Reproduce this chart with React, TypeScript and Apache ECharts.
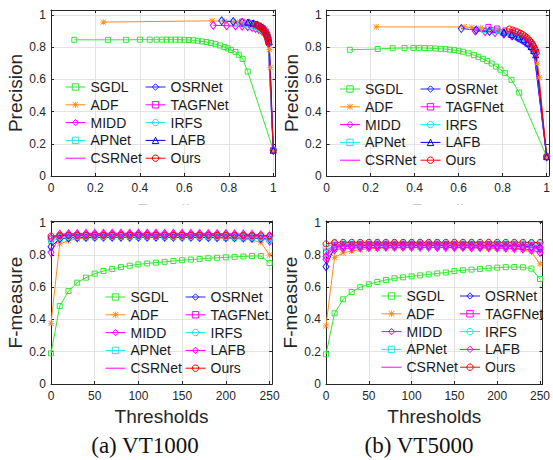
import React, { useEffect, useRef } from "react";
import * as echarts from "echarts";

// ---------------- data ----------------
const METHODS = ["SGDL", "ADF", "MIDD", "APNet", "CSRNet", "OSRNet", "TAGFNet", "IRFS", "LAFB", "Ours"];
const LEGEND_COL1 = ["SGDL", "ADF", "MIDD", "APNet", "CSRNet"];
const LEGEND_COL2 = ["OSRNet", "TAGFNet", "IRFS", "LAFB", "Ours"];

// PR curves, VT1000 (recall R1_*, precision P1_*)
const R1_SGDL = [0.105, 0.257, 0.338, 0.4, 0.444, 0.475, 0.5, 0.52, 0.54, 0.56, 0.58, 0.6, 0.62, 0.64, 0.66, 0.68, 0.7, 0.72, 0.74, 0.76, 0.78, 0.795, 0.81, 0.83, 0.845, 0.862, 0.885, 1.0];
const P1_SGDL = [0.845, 0.845, 0.845, 0.846, 0.846, 0.846, 0.846, 0.846, 0.846, 0.846, 0.846, 0.845, 0.844, 0.842, 0.839, 0.835, 0.831, 0.825, 0.818, 0.81, 0.8, 0.792, 0.782, 0.77, 0.752, 0.727, 0.648, 0.16];
const R1_ADF = [0.235, 0.725, 0.78, 0.82, 0.85, 0.875, 0.895, 0.915, 0.93, 0.945, 0.955, 0.963, 0.97, 0.975, 0.979, 0.983, 0.987, 1.0];
const P1_ADF = [0.955, 0.963, 0.96, 0.957, 0.954, 0.951, 0.947, 0.942, 0.937, 0.93, 0.922, 0.912, 0.898, 0.878, 0.85, 0.785, 0.672, 0.16];
const R1_MIDD = [0.73, 0.79, 0.83, 0.86, 0.885, 0.905, 0.92, 0.935, 0.948, 0.958, 0.966, 0.972, 0.976, 1.0];
const P1_MIDD = [0.935, 0.933, 0.931, 0.929, 0.926, 0.922, 0.916, 0.909, 0.9, 0.889, 0.876, 0.862, 0.845, 0.16];
const R1_APNet = [0.83, 0.87, 0.9, 0.92, 0.935, 0.948, 0.958, 0.966, 0.972, 0.976, 1.0];
const P1_APNet = [0.945, 0.94, 0.934, 0.927, 0.919, 0.909, 0.897, 0.884, 0.868, 0.848, 0.16];
const R1_CSRNet = [0.86, 0.89, 0.915, 0.932, 0.946, 0.957, 0.965, 0.972, 0.977, 1.0];
const P1_CSRNet = [0.95, 0.943, 0.934, 0.924, 0.912, 0.898, 0.883, 0.865, 0.842, 0.16];
const R1_OSRNet = [0.768, 0.82, 0.86, 0.89, 0.912, 0.93, 0.945, 0.957, 0.966, 0.973, 0.978, 1.0];
const P1_OSRNet = [0.963, 0.958, 0.953, 0.948, 0.942, 0.934, 0.924, 0.912, 0.897, 0.879, 0.857, 0.16];
const R1_TAGFNet = [0.86, 0.89, 0.912, 0.93, 0.944, 0.956, 0.965, 0.972, 0.977, 0.981, 1.0];
const P1_TAGFNet = [0.958, 0.951, 0.943, 0.934, 0.923, 0.91, 0.895, 0.877, 0.856, 0.83, 0.16];
const R1_IRFS = [0.88, 0.905, 0.925, 0.94, 0.952, 0.961, 0.968, 0.974, 0.978, 1.0];
const P1_IRFS = [0.945, 0.937, 0.927, 0.916, 0.903, 0.889, 0.872, 0.852, 0.826, 0.16];
const R1_LAFB = [0.885, 0.908, 0.926, 0.94, 0.952, 0.961, 0.968, 0.974, 0.979, 0.982, 1.0];
const P1_LAFB = [0.955, 0.949, 0.941, 0.932, 0.921, 0.908, 0.893, 0.876, 0.856, 0.832, 0.16];
const R1_Ours = [0.918, 0.925, 0.931, 0.936, 0.941, 0.946, 0.95, 0.954, 0.958, 0.961, 0.964, 0.967, 0.97, 0.972, 0.974, 0.976, 0.978, 0.98, 1.0];
const P1_Ours = [0.94, 0.936, 0.932, 0.928, 0.923, 0.918, 0.913, 0.907, 0.901, 0.895, 0.888, 0.88, 0.872, 0.864, 0.855, 0.845, 0.834, 0.822, 0.16];

// PR curves, VT5000
const R2_SGDL = [0.105, 0.232, 0.3, 0.354, 0.394, 0.42, 0.445, 0.47, 0.495, 0.52, 0.54, 0.56, 0.58, 0.6, 0.62, 0.645, 0.67, 0.69, 0.71, 0.73, 0.75, 0.77, 0.79, 0.81, 0.84, 0.875, 1.0];
const P2_SGDL = [0.783, 0.788, 0.793, 0.794, 0.795, 0.795, 0.794, 0.793, 0.791, 0.789, 0.787, 0.784, 0.781, 0.777, 0.771, 0.761, 0.75, 0.739, 0.727, 0.713, 0.698, 0.679, 0.66, 0.638, 0.597, 0.518, 0.12];
const R2_ADF = [0.225, 0.625, 0.66, 0.7, 0.74, 0.78, 0.815, 0.845, 0.87, 0.893, 0.912, 0.928, 0.94, 0.95, 0.958, 0.967, 1.0];
const P2_ADF = [0.925, 0.925, 0.922, 0.918, 0.913, 0.907, 0.9, 0.891, 0.88, 0.867, 0.851, 0.831, 0.806, 0.773, 0.7, 0.61, 0.12];
const R2_MIDD = [0.675, 0.72, 0.765, 0.805, 0.84, 0.868, 0.89, 0.908, 0.922, 0.933, 0.942, 1.0];
const P2_MIDD = [0.9, 0.896, 0.89, 0.882, 0.871, 0.858, 0.843, 0.827, 0.81, 0.792, 0.775, 0.12];
const R2_APNet = [0.715, 0.76, 0.8, 0.835, 0.865, 0.888, 0.907, 0.922, 0.934, 0.943, 1.0];
const P2_APNet = [0.905, 0.898, 0.889, 0.877, 0.863, 0.848, 0.831, 0.813, 0.793, 0.77, 0.12];
const R2_CSRNet = [0.745, 0.79, 0.828, 0.86, 0.885, 0.905, 0.921, 0.933, 0.942, 1.0];
const P2_CSRNet = [0.908, 0.897, 0.884, 0.868, 0.851, 0.832, 0.812, 0.79, 0.765, 0.12];
const R2_OSRNet = [0.612, 0.68, 0.74, 0.807, 0.845, 0.875, 0.898, 0.917, 0.932, 0.943, 1.0];
const P2_OSRNet = [0.915, 0.906, 0.897, 0.884, 0.871, 0.855, 0.838, 0.818, 0.797, 0.774, 0.12];
const R2_TAGFNet = [0.735, 0.775, 0.812, 0.845, 0.873, 0.896, 0.915, 0.93, 0.941, 0.949, 1.0];
const P2_TAGFNet = [0.925, 0.915, 0.903, 0.889, 0.873, 0.855, 0.835, 0.813, 0.79, 0.765, 0.12];
const R2_IRFS = [0.78, 0.82, 0.855, 0.884, 0.906, 0.924, 0.938, 0.948, 1.0];
const P2_IRFS = [0.905, 0.892, 0.877, 0.859, 0.839, 0.817, 0.794, 0.768, 0.12];
const R2_LAFB = [0.805, 0.84, 0.87, 0.895, 0.914, 0.929, 0.941, 0.95, 1.0];
const P2_LAFB = [0.893, 0.879, 0.863, 0.845, 0.825, 0.803, 0.779, 0.752, 0.12];
const R2_Ours = [0.83, 0.845, 0.858, 0.87, 0.881, 0.891, 0.9, 0.908, 0.916, 0.923, 0.93, 0.936, 0.941, 0.946, 0.95, 0.953, 1.0];
const P2_Ours = [0.912, 0.906, 0.9, 0.893, 0.886, 0.878, 0.87, 0.861, 0.851, 0.841, 0.83, 0.818, 0.806, 0.793, 0.779, 0.764, 0.12];

// F-measure vs threshold
const THRESHOLDS = [0, 10, 20, 30, 40, 50, 60, 70, 80, 90, 100, 110, 120, 130, 140, 150, 160, 170, 180, 190, 200, 210, 220, 230, 240, 250];

const F1_SGDL = [0.19, 0.483, 0.576, 0.628, 0.659, 0.684, 0.7, 0.713, 0.724, 0.733, 0.741, 0.747, 0.752, 0.757, 0.762, 0.767, 0.771, 0.775, 0.779, 0.782, 0.785, 0.788, 0.79, 0.793, 0.793, 0.75];
const F1_ADF = [0.376, 0.868, 0.888, 0.9, 0.905, 0.907, 0.908, 0.909, 0.91, 0.91, 0.91, 0.91, 0.91, 0.91, 0.91, 0.909, 0.909, 0.908, 0.907, 0.905, 0.903, 0.9, 0.897, 0.892, 0.878, 0.8];
const F1_MIDD = [0.816, 0.912, 0.92, 0.923, 0.924, 0.925, 0.925, 0.925, 0.926, 0.926, 0.926, 0.926, 0.926, 0.925, 0.925, 0.925, 0.924, 0.924, 0.923, 0.922, 0.921, 0.919, 0.917, 0.913, 0.905, 0.885];
const F1_APNet = [0.885, 0.903, 0.907, 0.908, 0.909, 0.909, 0.91, 0.91, 0.91, 0.91, 0.91, 0.91, 0.91, 0.91, 0.91, 0.909, 0.909, 0.909, 0.908, 0.908, 0.907, 0.906, 0.905, 0.903, 0.9, 0.893];
const F1_CSRNet = [0.905, 0.924, 0.927, 0.928, 0.929, 0.929, 0.929, 0.93, 0.93, 0.93, 0.93, 0.93, 0.93, 0.929, 0.929, 0.929, 0.929, 0.928, 0.928, 0.927, 0.927, 0.926, 0.925, 0.923, 0.92, 0.913];
const F1_OSRNet = [0.851, 0.9, 0.905, 0.907, 0.908, 0.909, 0.909, 0.91, 0.91, 0.91, 0.91, 0.91, 0.91, 0.91, 0.909, 0.909, 0.909, 0.908, 0.908, 0.907, 0.907, 0.906, 0.905, 0.904, 0.902, 0.9];
const F1_TAGFNet = [0.9, 0.918, 0.921, 0.922, 0.923, 0.923, 0.923, 0.924, 0.924, 0.924, 0.924, 0.924, 0.924, 0.924, 0.923, 0.923, 0.923, 0.923, 0.922, 0.922, 0.921, 0.92, 0.919, 0.917, 0.914, 0.908];
const F1_IRFS = [0.895, 0.91, 0.913, 0.914, 0.915, 0.915, 0.915, 0.915, 0.915, 0.915, 0.915, 0.915, 0.915, 0.915, 0.915, 0.915, 0.914, 0.914, 0.914, 0.913, 0.913, 0.912, 0.911, 0.91, 0.908, 0.903];
const F1_LAFB = [0.905, 0.928, 0.931, 0.932, 0.933, 0.933, 0.933, 0.934, 0.934, 0.934, 0.934, 0.934, 0.934, 0.933, 0.933, 0.933, 0.933, 0.932, 0.932, 0.931, 0.931, 0.93, 0.929, 0.927, 0.924, 0.918];
const F1_Ours = [0.917, 0.92, 0.921, 0.921, 0.921, 0.921, 0.921, 0.921, 0.921, 0.921, 0.921, 0.921, 0.921, 0.921, 0.921, 0.921, 0.921, 0.921, 0.921, 0.921, 0.921, 0.92, 0.92, 0.92, 0.919, 0.918];

const F2_SGDL = [0.184, 0.438, 0.525, 0.57, 0.6, 0.618, 0.632, 0.645, 0.655, 0.661, 0.667, 0.673, 0.679, 0.685, 0.691, 0.7, 0.705, 0.709, 0.713, 0.717, 0.721, 0.724, 0.725, 0.723, 0.715, 0.651];
const F2_ADF = [0.36, 0.785, 0.812, 0.824, 0.833, 0.838, 0.841, 0.843, 0.844, 0.845, 0.845, 0.846, 0.846, 0.846, 0.846, 0.845, 0.845, 0.844, 0.843, 0.842, 0.84, 0.838, 0.836, 0.832, 0.818, 0.744];
const F2_MIDD = [0.773, 0.832, 0.84, 0.843, 0.845, 0.846, 0.846, 0.847, 0.847, 0.847, 0.847, 0.847, 0.847, 0.846, 0.846, 0.846, 0.846, 0.845, 0.845, 0.844, 0.843, 0.842, 0.84, 0.837, 0.83, 0.815];
const F2_APNet = [0.81, 0.86, 0.864, 0.866, 0.867, 0.867, 0.868, 0.868, 0.868, 0.868, 0.868, 0.868, 0.868, 0.868, 0.868, 0.867, 0.867, 0.867, 0.866, 0.866, 0.865, 0.864, 0.863, 0.862, 0.86, 0.856];
const F2_CSRNet = [0.805, 0.855, 0.859, 0.861, 0.862, 0.862, 0.863, 0.863, 0.863, 0.863, 0.863, 0.863, 0.863, 0.863, 0.862, 0.862, 0.862, 0.862, 0.861, 0.861, 0.86, 0.859, 0.858, 0.857, 0.855, 0.85];
const F2_OSRNet = [0.727, 0.846, 0.853, 0.856, 0.857, 0.858, 0.858, 0.858, 0.858, 0.858, 0.858, 0.858, 0.858, 0.858, 0.858, 0.857, 0.857, 0.857, 0.856, 0.856, 0.855, 0.854, 0.853, 0.852, 0.85, 0.845];
const F2_TAGFNet = [0.82, 0.864, 0.867, 0.868, 0.869, 0.869, 0.87, 0.87, 0.87, 0.87, 0.87, 0.87, 0.87, 0.87, 0.869, 0.869, 0.869, 0.869, 0.868, 0.868, 0.867, 0.866, 0.866, 0.865, 0.863, 0.858];
const F2_IRFS = [0.845, 0.872, 0.874, 0.875, 0.875, 0.876, 0.876, 0.876, 0.876, 0.876, 0.876, 0.876, 0.876, 0.876, 0.876, 0.876, 0.875, 0.875, 0.875, 0.875, 0.874, 0.874, 0.873, 0.873, 0.872, 0.869];
const F2_LAFB = [0.79, 0.848, 0.853, 0.855, 0.856, 0.856, 0.857, 0.857, 0.857, 0.857, 0.857, 0.857, 0.857, 0.857, 0.856, 0.856, 0.856, 0.855, 0.855, 0.854, 0.853, 0.852, 0.851, 0.849, 0.845, 0.835];
const F2_Ours = [0.868, 0.877, 0.878, 0.878, 0.878, 0.878, 0.878, 0.878, 0.878, 0.878, 0.878, 0.878, 0.878, 0.878, 0.878, 0.878, 0.878, 0.878, 0.878, 0.878, 0.878, 0.878, 0.878, 0.878, 0.877, 0.877];

const PR_VT1000: Record<string, number[][]> = {
  SGDL: [R1_SGDL, P1_SGDL], ADF: [R1_ADF, P1_ADF], MIDD: [R1_MIDD, P1_MIDD], APNet: [R1_APNet, P1_APNet],
  CSRNet: [R1_CSRNet, P1_CSRNet], OSRNet: [R1_OSRNet, P1_OSRNet], TAGFNet: [R1_TAGFNet, P1_TAGFNet],
  IRFS: [R1_IRFS, P1_IRFS], LAFB: [R1_LAFB, P1_LAFB], Ours: [R1_Ours, P1_Ours],
};
const PR_VT5000: Record<string, number[][]> = {
  SGDL: [R2_SGDL, P2_SGDL], ADF: [R2_ADF, P2_ADF], MIDD: [R2_MIDD, P2_MIDD], APNet: [R2_APNet, P2_APNet],
  CSRNet: [R2_CSRNet, P2_CSRNet], OSRNet: [R2_OSRNet, P2_OSRNet], TAGFNet: [R2_TAGFNet, P2_TAGFNet],
  IRFS: [R2_IRFS, P2_IRFS], LAFB: [R2_LAFB, P2_LAFB], Ours: [R2_Ours, P2_Ours],
};
const FM_VT1000: Record<string, number[]> = {
  SGDL: F1_SGDL, ADF: F1_ADF, MIDD: F1_MIDD, APNet: F1_APNet, CSRNet: F1_CSRNet,
  OSRNet: F1_OSRNet, TAGFNet: F1_TAGFNet, IRFS: F1_IRFS, LAFB: F1_LAFB, Ours: F1_Ours,
};
const FM_VT5000: Record<string, number[]> = {
  SGDL: F2_SGDL, ADF: F2_ADF, MIDD: F2_MIDD, APNet: F2_APNet, CSRNet: F2_CSRNet,
  OSRNet: F2_OSRNet, TAGFNet: F2_TAGFNet, IRFS: F2_IRFS, LAFB: F2_LAFB, Ours: F2_Ours,
};

// ---------------- styles ----------------
const ASTER =
  "path://M4.35,0H5.65V10H4.35Z M0,4.35H10V5.65H0Z M1.1,0.2L9.8,8.9L8.9,9.8L0.2,1.1Z M8.9,0.2L9.8,1.1L1.1,9.8L0.2,8.9Z";
type Sty = { c: string; sym: string; size?: number | number[]; filled?: boolean };
const GREEN = "#33e633";
const ORANGE = "#ff8c1a";
const MAGENTA = "#ff00ff";
const CYAN = "#1ee8e8";
const BLUE = "#1f1fff";
const DBLUE = "#0000e0";
const RED = "#ff0000";
const STY_PR: Record<string, Sty> = {
  SGDL: { c: GREEN, sym: "rect", size: 5 },
  ADF: { c: ORANGE, sym: ASTER, size: 6, filled: true },
  MIDD: { c: MAGENTA, sym: "diamond", size: [6, 8] },
  APNet: { c: CYAN, sym: "rect", size: 5 },
  CSRNet: { c: MAGENTA, sym: "none" },
  OSRNet: { c: BLUE, sym: "diamond", size: [6, 8] },
  TAGFNet: { c: MAGENTA, sym: "rect", size: 5 },
  IRFS: { c: CYAN, sym: "circle", size: 6 },
  LAFB: { c: DBLUE, sym: "triangle", size: 6 },
  Ours: { c: RED, sym: "circle", size: 6 },
};
const STY_FM: Record<string, Sty> = { ...STY_PR, LAFB: { c: MAGENTA, sym: "diamond", size: [6, 8] } };

const FONT = '"Liberation Sans", Arial, Helvetica, sans-serif';
const SERIF = '"Liberation Serif", "Times New Roman", Times, serif';
const AXC = "#262626";
const GRIDC = "#e3e3e3";

function itemStyleOf(st: Sty) {
  if (st.sym === "none") return { color: "transparent", borderColor: "transparent", borderWidth: 0 };
  if (st.filled) return { color: st.c, borderWidth: 0 };
  return { color: "transparent", borderColor: st.c, borderWidth: 1 };
}

function makeSeries(name: string, xs: number[], ys: number[], st: Sty, idx: number) {
  return {
    type: "line",
    name,
    xAxisIndex: idx,
    yAxisIndex: idx,
    data: xs.map((x, i) => [x, ys[i]]),
    symbol: st.sym,
    symbolSize: st.size ?? 6,
    showSymbol: st.sym !== "none",
    lineStyle: { color: st.c, width: 1 },
    itemStyle: itemStyleOf(st),
    emphasis: { disabled: true },
    silent: true,
  };
}

const fmt02 = (v: number) => {
  const r = Math.round(v * 5) / 5;
  if (Math.abs(v - r) > 1e-6 || r > 1.0001) return "";
  return r === 0 ? "0" : r === 1 ? "1" : r.toFixed(1);
};
const fmt50 = (v: number) => (Math.abs(v % 50) < 1e-6 && v <= 250 ? String(Math.round(v)) : "");

type G = { left: number; top: number; width: number; height: number; xmax: number; ymax: number; xint: number; xfmt: (v: number) => string; xname: string; xgap: number; yname: string };
const GRIDS: G[] = [
  { left: 51, top: 10, width: 224.5, height: 166, xmax: 1.01, ymax: 1.03, xint: 0.2, xfmt: fmt02, xname: "Recall", xgap: 25, yname: "Precision" },
  { left: 326.7, top: 10, width: 224.5, height: 166, xmax: 1.01, ymax: 1.03, xint: 0.2, xfmt: fmt02, xname: "Recall", xgap: 25, yname: "Precision" },
  { left: 51, top: 221, width: 221.2, height: 163, xmax: 253, ymax: 1.01, xint: 50, xfmt: fmt50, xname: "Thresholds", xgap: 23, yname: "F-measure" },
  { left: 326, top: 221, width: 221.2, height: 163, xmax: 253, ymax: 1.01, xint: 50, xfmt: fmt50, xname: "Thresholds", xgap: 23, yname: "F-measure" },
];

function buildOption() {
  const grid = GRIDS.map((g) => ({ left: g.left, top: g.top, width: g.width, height: g.height, containLabel: false }));
  const xAxis: any[] = [];
  const yAxis: any[] = [];
  GRIDS.forEach((g, i) => {
    xAxis.push({
      type: "value", gridIndex: i, min: 0, max: g.xmax, interval: g.xint, position: "bottom",
      axisLine: { show: true, onZero: false, lineStyle: { color: AXC, width: 1 } },
      axisTick: { show: true, inside: true, length: 3, lineStyle: { color: AXC } },
      axisLabel: { color: AXC, fontSize: 12, fontFamily: FONT, margin: 6, formatter: g.xfmt },
      splitLine: { show: true, lineStyle: { color: GRIDC, width: 1 } },
      name: g.xname, nameLocation: "middle", nameGap: g.xgap,
      nameTextStyle: { fontSize: 19, color: AXC, fontFamily: FONT },
    });
    yAxis.push({
      type: "value", gridIndex: i, min: 0, max: g.ymax, interval: 0.2, position: "left",
      axisLine: { show: true, onZero: false, lineStyle: { color: AXC, width: 1 } },
      axisTick: { show: true, inside: true, length: 3, lineStyle: { color: AXC } },
      axisLabel: { color: AXC, fontSize: 12, fontFamily: FONT, margin: 5, formatter: fmt02 },
      splitLine: { show: true, lineStyle: { color: GRIDC, width: 1 } },
      name: g.yname, nameLocation: "middle", nameGap: 23,
      nameTextStyle: { fontSize: 19, color: AXC, fontFamily: FONT },
    });
  });
  GRIDS.forEach((g, i) => {
    xAxis.push({
      type: "value", gridIndex: i, min: 0, max: g.xmax, interval: g.xint, position: "top",
      axisLine: { show: true, onZero: false, lineStyle: { color: AXC, width: 1 } },
      axisTick: { show: true, inside: true, length: 3, lineStyle: { color: AXC } },
      axisLabel: { show: false }, splitLine: { show: false },
    });
    yAxis.push({
      type: "value", gridIndex: i, min: 0, max: g.ymax, interval: 0.2, position: "right",
      axisLine: { show: true, onZero: false, lineStyle: { color: AXC, width: 1 } },
      axisTick: { show: true, inside: true, length: 3, lineStyle: { color: AXC } },
      axisLabel: { show: false }, splitLine: { show: false },
    });
  });

  const series: any[] = [];
  METHODS.forEach((m) => series.push(makeSeries(m, PR_VT1000[m][0], PR_VT1000[m][1], STY_PR[m], 0)));
  METHODS.forEach((m) => series.push(makeSeries(m, PR_VT5000[m][0], PR_VT5000[m][1], STY_PR[m], 1)));
  const fmName = (m: string) => (m === "LAFB" ? "LAFB " : m);
  METHODS.forEach((m) => series.push(makeSeries(fmName(m), THRESHOLDS, FM_VT1000[m], STY_FM[m], 2)));
  METHODS.forEach((m) => series.push(makeSeries(fmName(m), THRESHOLDS, FM_VT5000[m], STY_FM[m], 3)));

  const legendCol = (left: number, top: number, names: string[], styles: Record<string, Sty>, bottom: boolean) => ({
    orient: "vertical", left, top, padding: 0, itemGap: 3.8, itemWidth: 20, itemHeight: 8,
    selectedMode: false,
    textStyle: { fontSize: 14, color: "#1a1a1a", fontFamily: FONT },
    formatter: (n: string) => n.trim(),
    data: names.map((n) => ({
      name: bottom ? fmName(n) : n,
      itemStyle: itemStyleOf(styles[n]),
      lineStyle: { color: styles[n].c, width: 1 },
    })),
  });
  const legend = [
    legendCol(65, 80, LEGEND_COL1, STY_PR, false),
    legendCol(145, 80, LEGEND_COL2, STY_PR, false),
    legendCol(339.5, 82, LEGEND_COL1, STY_PR, false),
    legendCol(420, 82, LEGEND_COL2, STY_PR, false),
    legendCol(105, 290, LEGEND_COL1, STY_FM, true),
    legendCol(185, 290, LEGEND_COL2, STY_FM, true),
    legendCol(381, 289, LEGEND_COL1, STY_FM, true),
    legendCol(459.5, 289, LEGEND_COL2, STY_FM, true),
  ];

  const capStyle = (text: string) => ({
    text, font: `23px ${SERIF}`, fill: "#111111", align: "center", verticalAlign: "middle", textAlign: "center", textVerticalAlign: "middle",
  });
  const graphic = [
    // the top panels' "Recall" titles are mostly hidden under the lower panels
    { type: "rect", z: 100, silent: true, shape: { x: 0, y: 204.5, width: 553, height: 11 }, style: { fill: "#ffffff" } },
    { type: "rect", z: 100, silent: true, shape: { x: 100, y: 204.5, width: 130, height: 16 }, style: { fill: "#ffffff" } },
    { type: "rect", z: 100, silent: true, shape: { x: 375, y: 204.5, width: 130, height: 16 }, style: { fill: "#ffffff" } },
    { type: "text", z: 100, x: 145, y: 445, style: capStyle("(a) VT1000") },
    { type: "text", z: 100, x: 419, y: 445, style: capStyle("(b) VT5000") },
  ];

  return { animation: false, backgroundColor: "#ffffff", grid, xAxis, yAxis, series, legend, graphic };
}

export default function App() {
  const ref = useRef<HTMLDivElement>(null);
  useEffect(() => {
    if (!ref.current) return;
    const chart = echarts.init(ref.current, null, { renderer: "svg" });
    chart.setOption(buildOption() as any);
    return () => chart.dispose();
  }, []);
  return <div ref={ref} style={{ position: "fixed", left: 0, top: 0, width: 553, height: 460, background: "#fff" }} />;
}
